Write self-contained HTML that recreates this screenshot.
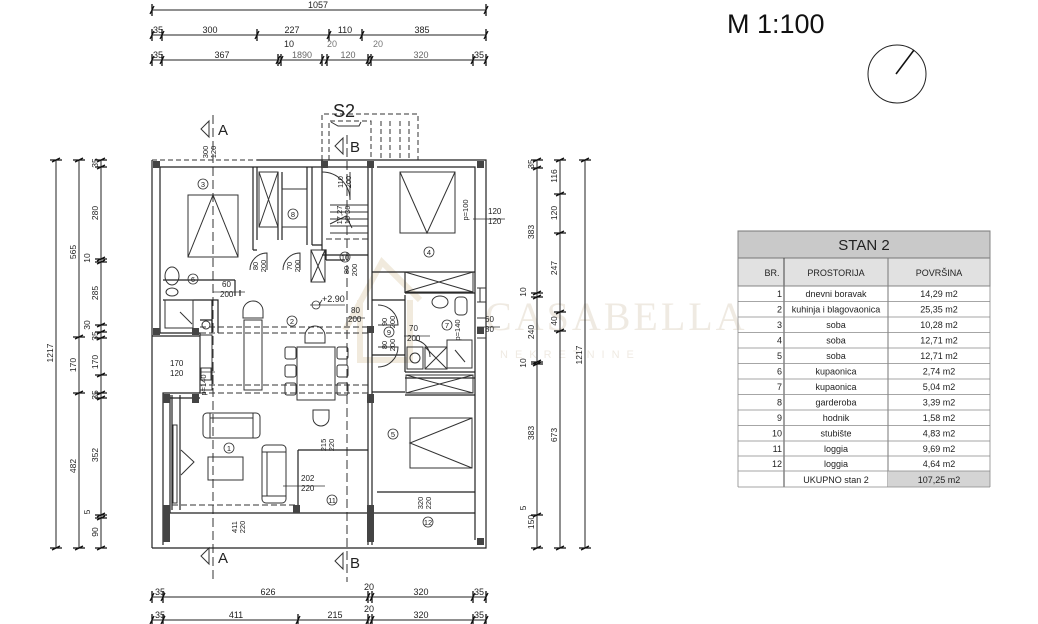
<!DOCTYPE html>
<html><head><meta charset="utf-8"><style>
html,body{margin:0;padding:0;background:#fff;}
svg{display:block;font-family:"Liberation Sans",Arial,sans-serif;}
</style></head><body>
<svg width="1038" height="624" viewBox="0 0 1038 624" xmlns="http://www.w3.org/2000/svg">
<rect width="1038" height="624" fill="#fff"/>

<!-- watermark -->
<g fill="#ece6dc" opacity="0.8">
<text x="485" y="330" font-family="Liberation Serif,serif" font-size="40" letter-spacing="3">CASABELLA</text>
<text x="500" y="358" font-size="11" letter-spacing="7">NEKRETNINE</text>
</g>
<path d="M345 330 L382 262 L420 300 M360 300 L360 360 L410 360 L410 300" fill="none" stroke="#ebe1cf" stroke-width="6" opacity="0.7"/>

<!-- TOP DIMENSIONS -->
<g stroke="#222" stroke-width="1" fill="none">
<line x1="152" y1="10" x2="486" y2="10"/>
<line x1="152" y1="35" x2="486" y2="35"/>
<line x1="152" y1="60" x2="486" y2="60"/>
<line x1="56" y1="160" x2="56" y2="548"/>
<line x1="79" y1="160" x2="79" y2="548"/>
<line x1="101" y1="160" x2="101" y2="548"/>
<line x1="537" y1="160" x2="537" y2="548"/>
<line x1="560" y1="160" x2="560" y2="548"/>
<line x1="585" y1="160" x2="585" y2="548"/>
<line x1="152" y1="597" x2="486" y2="597"/>
<line x1="152" y1="620" x2="486" y2="620"/>
</g>
<g stroke="#111" stroke-width="1.3">
<path d="M150 14 L154 6 M484 14 L488 6 M152 4 V16 M486 4 V16"/>
<path d="M150 39 L154 31 M160 39 L164 31 M255 39 L259 31 M327 39 L331 31 M360 39 L364 31 M484 39 L488 31 M152 29V41 M162 29V41 M257 29V41 M329 29V41 M362 29V41 M486 29V41"/>
<path d="M150 64 L154 56 M160 64 L164 56 M276 64 L280 56 M279 64 L283 56 M320 64 L324 56 M325 64 L329 56 M366 64 L370 56 M369 64 L373 56 M471 64 L475 56 M484 64 L488 56 M152 54V66 M162 54V66 M278 54V66 M281 54V66 M322 54V66 M327 54V66 M368 54V66 M371 54V66 M473 54V66 M486 54V66"/>
<path d="M150 601 L154 593 M161 601 L165 593 M366 601 L370 593 M370 601 L374 593 M471 601 L475 593 M484 601 L488 593 M152 591V603 M163 591V603 M368 591V603 M372 591V603 M473 591V603 M486 591V603"/>
<path d="M150 624 L154 616 M161 624 L165 616 M296 624 L300 616 M366 624 L370 616 M370 624 L374 616 M471 624 L475 616 M484 624 L488 616 M152 614V624 M163 614V624 M298 614V624 M368 614V624 M372 614V624 M473 614V624 M486 614V624"/>
<path d="M52 162 L60 158 M52 550 L60 546 M50 160H62 M50 548H62"/>
<path d="M75 162 L83 158 M75 339 L83 335 M75 395 L83 391 M75 550 L83 546 M73 160H85 M73 337H85 M73 393H85 M73 548H85"/>
<path d="M97 162 L105 158 M97 169 L105 165 M97 261 L105 257 M97 264 L105 260 M97 327 L105 323 M97 334 L105 330 M97 340 L105 336 M97 377 L105 373 M97 395 L105 391 M97 400 L105 396 M97 517 L105 513 M97 520 L105 516 M97 550 L105 546 M95 160H107 M95 167H107 M95 259H107 M95 262H107 M95 325H107 M95 332H107 M95 338H107 M95 375H107 M95 393H107 M95 398H107 M95 515H107 M95 518H107 M95 548H107"/>
<path d="M533 162 L541 158 M533 170 L541 166 M533 295 L541 291 M533 299 L541 295 M533 364 L541 360 M533 366 L541 362 M533 517 L541 513 M533 550 L541 546 M531 160H543 M531 168H543 M531 293H543 M531 297H543 M531 362H543 M531 364H543 M531 515H543 M531 548H543"/>
<path d="M556 162 L564 158 M556 196 L564 192 M556 235 L564 231 M556 314 L564 310 M556 333 L564 329 M556 550 L564 546 M554 160H566 M554 194H566 M554 233H566 M554 312H566 M554 331H566 M554 548H566"/>
<path d="M581 162 L589 158 M581 550 L589 546 M579 160H591 M579 548H591"/>
</g>
<g font-size="9" fill="#222" text-anchor="middle">
<text x="318" y="8">1057</text>
<text x="158" y="33">35</text><text x="210" y="33">300</text><text x="292" y="33">227</text><text x="345" y="33">110</text><text x="422" y="33">385</text>
<text x="158" y="58">35</text><text x="222" y="58">367</text><text x="302" y="58" fill="#666">1890</text><text x="348" y="58" fill="#666">120</text><text x="421" y="58" fill="#666">320</text><text x="479" y="58">35</text>
<text x="289" y="47">10</text><text x="332" y="47" fill="#777">20</text><text x="378" y="47" fill="#777">20</text>
<text x="160" y="595">35</text><text x="268" y="595">626</text><text x="369" y="590">20</text><text x="421" y="595">320</text><text x="479" y="595">35</text>
<text x="160" y="618">35</text><text x="236" y="618">411</text><text x="335" y="618">215</text><text x="369" y="612">20</text><text x="421" y="618">320</text><text x="479" y="618">35</text>
</g>
<g font-size="8.5" fill="#222" text-anchor="middle">
<text transform="translate(53,353) rotate(-90)">1217</text>
<text transform="translate(76,252) rotate(-90)">565</text>
<text transform="translate(76,365) rotate(-90)">170</text>
<text transform="translate(76,466) rotate(-90)">482</text>
<text transform="translate(98,163) rotate(-90)">35</text>
<text transform="translate(98,213) rotate(-90)">280</text>
<text transform="translate(90,258) rotate(-90)">10</text>
<text transform="translate(98,293) rotate(-90)">285</text>
<text transform="translate(90,325) rotate(-90)">30</text>
<text transform="translate(98,336) rotate(-90)">35</text>
<text transform="translate(98,362) rotate(-90)">170</text>
<text transform="translate(98,395) rotate(-90)">35</text>
<text transform="translate(98,455) rotate(-90)">352</text>
<text transform="translate(90,512) rotate(-90)">5</text>
<text transform="translate(98,532) rotate(-90)">90</text>
<text transform="translate(534,164) rotate(-90)">35</text>
<text transform="translate(534,232) rotate(-90)">383</text>
<text transform="translate(526,292) rotate(-90)">10</text>
<text transform="translate(534,332) rotate(-90)">240</text>
<text transform="translate(526,363) rotate(-90)">10</text>
<text transform="translate(534,433) rotate(-90)">383</text>
<text transform="translate(526,508) rotate(-90)">5</text>
<text transform="translate(534,522) rotate(-90)">150</text>
<text transform="translate(557,176) rotate(-90)">116</text>
<text transform="translate(557,213) rotate(-90)">120</text>
<text transform="translate(557,268) rotate(-90)">247</text>
<text transform="translate(557,321) rotate(-90)">40</text>
<text transform="translate(557,435) rotate(-90)">673</text>
<text transform="translate(582,355) rotate(-90)">1217</text>
</g>

<!-- SECTION LINES -->
<g stroke="#333" stroke-width="1" stroke-dasharray="9,4" fill="none">
<line x1="213" y1="115" x2="213" y2="582"/>
<line x1="347" y1="135" x2="347" y2="582"/>
</g>
<g stroke="#333" stroke-width="1" fill="none">
<path d="M209 121 L201 129 L209 137Z M209 548 L201 556 L209 564Z M343 138 L335 146 L343 154Z M343 553 L335 561 L343 569Z"/>
</g>
<g font-size="15" fill="#222">
<text x="218" y="135">A</text><text x="218" y="563">A</text>
<text x="350" y="152">B</text><text x="350" y="568">B</text>
<text x="333" y="117" font-size="18">S2</text>
</g>
<g stroke="#333" stroke-width="1" stroke-dasharray="5,3" fill="none">
<path d="M322 160 V114 H418 V160"/>
<path d="M329 160 V121 H371 V160"/>
<line x1="381" y1="121" x2="381" y2="160"/><line x1="390" y1="121" x2="390" y2="160"/><line x1="400" y1="121" x2="400" y2="160"/><line x1="409" y1="121" x2="409" y2="160"/>
<line x1="152" y1="160" x2="257" y2="160"/>
</g>
<path d="M331 122 L338 126 L359 126 L361 122" stroke="#333" fill="none"/>

<!-- PLAN WALLS -->
<g stroke="#222" stroke-width="1.2" fill="none">
<path d="M257 160 H486 V548 H152"/>
<path d="M152 160 V336"/>
<path d="M160 167 H372 M377 167 H475 V540"/>
<path d="M160 167 V333 H200 V393 H163 V545"/>
<path d="M152 336 H200 M152 336 V393 M152 393 V548"/>
<path d="M170 395 V513 H475"/>
<path d="M163 398 H200"/>
<path d="M253 167 V250 M257 167 V240 M253 250 H257"/>
<path d="M278 172 V240 M282 172 V240"/>
<path d="M307 167 V245 M312 167 V245 M312 245 H322"/>
<path d="M322 160 V250 H326 V260"/>
<path d="M368 167 V310 M372 167 V545 M368 330 V545"/>
<path d="M163 280 H235 M235 280 V296 M240 296 V290"/>
<path d="M163 300 H218 V333 M212 300 V333"/>
<path d="M200 320 H212 V333"/>
<path d="M372 272 H475 M405 272 V293 M405 293 H475"/>
<path d="M405 295 V372 M405 372 H475 M405 378 H475 M405 395 H475"/>
<path d="M372 392 H405"/>
<path d="M372 300 H405 M372 355 H405"/>
<path d="M377 492 H475"/>
<path d="M298 450 V513 M298 450 H368"/>
<path d="M322 255 H368 M326 260 H345"/>
<path d="M172 395 V510 M180 395 V510"/>
</g>
<g fill="#444">
<rect x="153" y="161" width="7" height="7"/><rect x="321" y="161" width="7" height="7"/><rect x="367" y="161" width="7" height="7"/><rect x="477" y="161" width="7" height="7"/>
<rect x="153" y="328" width="7" height="7"/><rect x="192" y="328" width="7" height="7"/><rect x="367" y="326" width="7" height="7"/><rect x="477" y="327" width="7" height="7"/>
<rect x="163" y="394" width="7" height="9"/><rect x="192" y="394" width="7" height="9"/><rect x="367" y="394" width="7" height="9"/>
<rect x="163" y="505" width="7" height="37"/><rect x="293" y="505" width="7" height="8"/><rect x="367" y="505" width="7" height="37"/><rect x="477" y="538" width="7" height="7"/>
</g>

<g stroke="#333" stroke-width="1" stroke-dasharray="6,3" fill="none">
<line x1="200" y1="327" x2="368" y2="327"/><line x1="200" y1="333" x2="368" y2="333"/>
<line x1="200" y1="385" x2="368" y2="385"/><line x1="200" y1="393" x2="368" y2="393"/>
<line x1="172" y1="505" x2="298" y2="505"/>
<line x1="326" y1="239" x2="368" y2="239"/>
</g>

<g stroke="#333" stroke-width="1" fill="none">
<rect x="188" y="195" width="50" height="62"/><path d="M188 257 L213 195 L238 257"/>
<rect x="259" y="172" width="19" height="55"/><path d="M259 172 L278 227 M278 172 L259 227"/>
<rect x="282" y="189" width="25" height="38"/>
<rect x="311" y="250" width="14" height="32"/><path d="M311 250 L325 282 M325 250 L311 282"/>
<path d="M330 205 H368 M330 212 H368 M330 219 H368 M330 226 H368 M330 233 H368"/>
<path d="M330 224 L346 216 L352 228"/>
<path d="M322 172 A28 28 0 0 1 350 200 L350 172" />
<path d="M250 270 A17 17 0 0 1 267 253 V270"/>
<path d="M283 270 A17 17 0 0 1 300 253 V270"/>
<path d="M378 305 A20 20 0 0 1 398 325 H378"/>
<path d="M378 367 A20 20 0 0 0 398 347 H378"/>
<path d="M430 357 A17 17 0 0 0 415 340"/>
<ellipse cx="172" cy="276" rx="7" ry="9"/><ellipse cx="172" cy="292" rx="6" ry="4"/>
<rect x="165" y="300" width="28" height="28"/><path d="M180 312 L192 324"/>
<rect x="200" y="335" width="12" height="55"/><circle cx="206" cy="325" r="4"/>
<rect x="201" y="368" width="10" height="12"/>
<rect x="244" y="320" width="18" height="70"/>
<path d="M243 318 V311 A10 10 0 0 1 263 311 V318Z"/>
<path d="M305 343 V336 A10 10 0 0 1 325 336 V343Z"/>
<rect x="297" y="347" width="38" height="53"/>
<rect x="285" y="347" width="11" height="12" rx="2"/><rect x="285" y="365" width="11" height="12" rx="2"/><rect x="285" y="383" width="11" height="12" rx="2"/>
<rect x="337" y="347" width="11" height="12" rx="2"/><rect x="337" y="365" width="11" height="12" rx="2"/><rect x="337" y="383" width="11" height="12" rx="2"/>
<path d="M313 410 V418 A8 8 0 0 0 329 418 V410Z"/>
<rect x="203" y="413" width="57" height="25" rx="4"/><path d="M210 413 V438 M253 413 V438 M210 418 H253"/>
<rect x="262" y="445" width="24" height="58" rx="4"/><path d="M262 452 H286 M262 496 H286 M267 452 V496"/>
<rect x="208" y="457" width="35" height="23"/>
<rect x="173" y="425" width="4" height="78"/><path d="M181 450 L194 462 L181 475"/>
<rect x="400" y="172" width="55" height="61"/><path d="M400 172 L427 233 L455 172"/>
<rect x="405" y="272" width="68" height="20"/><path d="M405 272 L473 292 M473 272 L405 292"/>
<ellipse cx="440" cy="302" rx="8" ry="6"/><rect x="455" y="297" width="12" height="18" rx="4"/>
<rect x="447" y="340" width="25" height="28"/><path d="M455 350 L465 362"/>
<rect x="407" y="347" width="16" height="22"/><circle cx="415" cy="358" r="5"/>
<rect x="425" y="347" width="22" height="22"/><path d="M425 347 L447 369 M447 347 L425 369"/>
<rect x="406" y="375" width="67" height="18"/><path d="M406 375 L473 393 M473 375 L406 393"/>
<rect x="410" y="418" width="62" height="50"/><path d="M472 418 L410 443 L472 468"/>
<path d="M477 288 H486 M477 302 H486 M480 288 V302" />
<path d="M477 318 H486 M477 338 H486"/>
</g>
<g stroke="#333" fill="none" stroke-width="0.8">
<circle cx="203" cy="184" r="5"/><circle cx="293" cy="214" r="5"/><circle cx="345" cy="257" r="5"/><circle cx="429" cy="252" r="5"/>
<circle cx="193" cy="279" r="5"/><circle cx="292" cy="321" r="5"/><circle cx="389" cy="332" r="5"/><circle cx="447" cy="325" r="5"/>
<circle cx="393" cy="434" r="5"/><circle cx="229" cy="448" r="5"/><circle cx="332" cy="500" r="5"/><circle cx="428" cy="522" r="5"/>
</g>
<g font-size="7.5" fill="#222" text-anchor="middle">
<text x="203" y="187">3</text><text x="293" y="217">8</text><text x="345" y="260">10</text><text x="429" y="255">4</text>
<text x="193" y="282">6</text><text x="292" y="324">2</text><text x="389" y="335">9</text><text x="447" y="328">7</text>
<text x="393" y="437">5</text><text x="229" y="451">1</text><text x="332" y="503">11</text><text x="428" y="525">12</text>
</g>
<g font-size="8" fill="#222">
<text x="222" y="287">60</text><text x="220" y="297">200</text>
<text x="170" y="366">170</text><text x="170" y="376">120</text>
<text x="351" y="313">80</text><text x="348" y="322">200</text>
<text x="409" y="331">70</text><text x="407" y="341">200</text>
<text x="322" y="302" font-size="9">+2.90</text>
<text x="301" y="481">202</text><text x="301" y="491">220</text>
<text x="488" y="214">120</text><text x="488" y="224">120</text>
<text x="485" y="322">60</text><text x="485" y="332">80</text>
</g>
<g font-size="7.5" fill="#222" text-anchor="middle">
<text transform="translate(208,152) rotate(-90)">300</text><text transform="translate(216,152) rotate(-90)">120</text>
<text transform="translate(343,182) rotate(-90)">110</text><text transform="translate(351,182) rotate(-90)">200</text>
<text transform="translate(342,215) rotate(-90)">17,27</text><text transform="translate(350,215) rotate(-90)">15 30</text>
<text transform="translate(258,266) rotate(-90)">80</text><text transform="translate(266,266) rotate(-90)">200</text>
<text transform="translate(292,266) rotate(-90)">70</text><text transform="translate(300,266) rotate(-90)">200</text>
<text transform="translate(349,270) rotate(-90)">80</text><text transform="translate(357,270) rotate(-90)">200</text>
<text transform="translate(387,322) rotate(-90)">90</text><text transform="translate(395,322) rotate(-90)">200</text>
<text transform="translate(387,345) rotate(-90)">80</text><text transform="translate(395,345) rotate(-90)">200</text>
<text transform="translate(468,210) rotate(-90)">p=100</text>
<text transform="translate(460,330) rotate(-90)">p=140</text>
<text transform="translate(206,385) rotate(-90)">p=140</text>
<text transform="translate(326,445) rotate(-90)">215</text><text transform="translate(334,445) rotate(-90)">220</text>
<text transform="translate(237,527) rotate(-90)">411</text><text transform="translate(245,527) rotate(-90)">220</text>
<text transform="translate(423,503) rotate(-90)">320</text><text transform="translate(431,503) rotate(-90)">220</text>
</g>
<g stroke="#333" stroke-width="0.8">
<path d="M230 292 H245 M213 292 L236 292 M200 372 L215 372 M310 305 H345 M319 305 L322 300 M348 318 L365 318 M404 336 L430 336 M283 486 L325 486 M473 219 H505 M477 327 H500"/>
<circle cx="316" cy="305" r="4" fill="none"/>
</g>

<text x="727" y="33" font-size="27" fill="#111">M 1:100</text>
<circle cx="897" cy="74" r="29" fill="none" stroke="#222" stroke-width="1"/>
<line x1="896" y1="74" x2="914" y2="50" stroke="#111" stroke-width="1.6"/>

<g font-size="9" fill="#222">
<rect x="738" y="231" width="252" height="27" fill="#c9c9c9" stroke="#777"/>
<text x="864" y="250" font-size="15" text-anchor="middle">STAN 2</text>
<rect x="738" y="258" width="252" height="28" fill="#e1e1e1" stroke="#777"/>
<line x1="784" y1="258" x2="784" y2="487" stroke="#444"/>
<line x1="888" y1="258" x2="888" y2="487" stroke="#777"/>
<text x="772" y="276" text-anchor="middle">BR.</text>
<text x="836" y="276" text-anchor="middle">PROSTORIJA</text>
<text x="939" y="276" text-anchor="middle">POVRŠINA</text>
<rect x="888" y="471" width="102" height="16" fill="#d4d4d4"/>
<g stroke="#888" stroke-width="0.8">
<line x1="738" y1="286" x2="990" y2="286"/><line x1="738" y1="301.5" x2="990" y2="301.5"/><line x1="738" y1="317" x2="990" y2="317"/><line x1="738" y1="332.5" x2="990" y2="332.5"/><line x1="738" y1="348" x2="990" y2="348"/><line x1="738" y1="363.5" x2="990" y2="363.5"/><line x1="738" y1="379" x2="990" y2="379"/><line x1="738" y1="394.5" x2="990" y2="394.5"/><line x1="738" y1="410" x2="990" y2="410"/><line x1="738" y1="425.5" x2="990" y2="425.5"/><line x1="738" y1="441" x2="990" y2="441"/><line x1="738" y1="456" x2="990" y2="456"/><line x1="738" y1="471" x2="990" y2="471"/><line x1="738" y1="487" x2="990" y2="487"/>
<line x1="738" y1="231" x2="738" y2="487"/><line x1="990" y1="231" x2="990" y2="487"/>
</g>
<g text-anchor="end">
<text x="782" y="297">1</text><text x="782" y="312.5">2</text><text x="782" y="328">3</text><text x="782" y="343.5">4</text><text x="782" y="359">5</text><text x="782" y="374.5">6</text><text x="782" y="390">7</text><text x="782" y="405.5">8</text><text x="782" y="421">9</text><text x="782" y="436.5">10</text><text x="782" y="452">11</text><text x="782" y="467">12</text>
</g>
<g text-anchor="middle">
<text x="836" y="297">dnevni boravak</text><text x="836" y="312.5">kuhinja i blagovaonica</text><text x="836" y="328">soba</text><text x="836" y="343.5">soba</text><text x="836" y="359">soba</text><text x="836" y="374.5">kupaonica</text><text x="836" y="390">kupaonica</text><text x="836" y="405.5">garderoba</text><text x="836" y="421">hodnik</text><text x="836" y="436.5">stubište</text><text x="836" y="452">loggia</text><text x="836" y="467">loggia</text><text x="836" y="483">UKUPNO stan 2</text>
<text x="939" y="297">14,29 m2</text><text x="939" y="312.5">25,35 m2</text><text x="939" y="328">10,28 m2</text><text x="939" y="343.5">12,71 m2</text><text x="939" y="359">12,71 m2</text><text x="939" y="374.5">2,74 m2</text><text x="939" y="390">5,04 m2</text><text x="939" y="405.5">3,39 m2</text><text x="939" y="421">1,58 m2</text><text x="939" y="436.5">4,83 m2</text><text x="939" y="452">9,69 m2</text><text x="939" y="467">4,64 m2</text><text x="939" y="483">107,25 m2</text>
</g>
</g>
</svg>
</body></html>
